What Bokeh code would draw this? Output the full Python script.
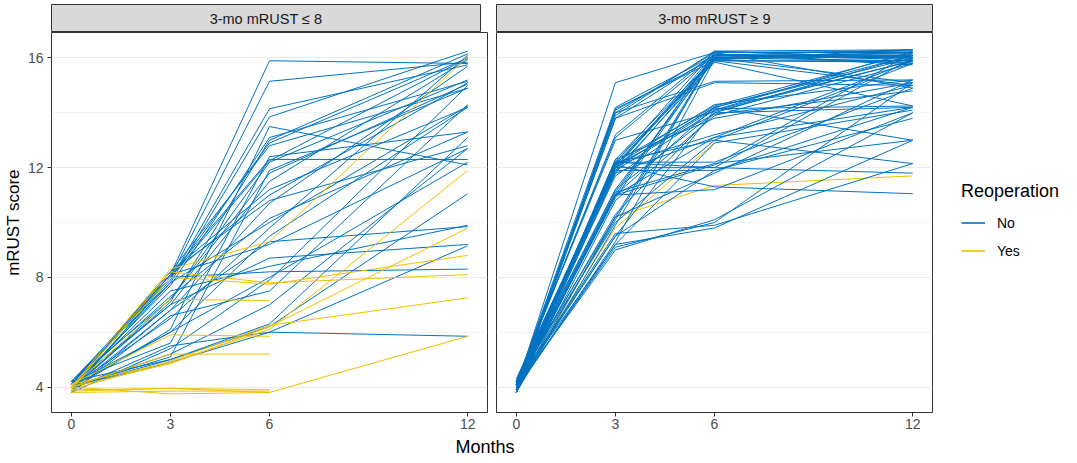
import math
from bokeh.plotting import figure
from bokeh.models import Range1d, FixedTicker, Legend, LegendItem
from bokeh.layouts import row, column
from bokeh.core.properties import value
from bokeh.embed import file_html
from bokeh.resources import INLINE

NAN = float("nan")

months = [0, 3, 6, 12]
x_ticks = [0, 3, 6, 12]
y_ticks = [4, 8, 12, 16]
y_minor = [6, 10, 14]
panel_titles = ["3-mo mRUST \u2264 8", "3-mo mRUST \u2265 9"]
legend_title = "Reoperation"
legend_labels = ["No", "Yes"]

# mRUST score at months 0, 3, 6, 12 for each patient (NaN = not observed)
left_no = [
    [4.1, 8.1, 15.9, 15.8], [4.0, 8.0, 15.15, 15.85], [3.9, 7.9, 14.15, 15.75],
    [4.2, 7.8, 13.85, 16.25], [4.0, 7.7, 13.1, 15.15], [3.9, 7.1, 13.0, 16.15],
    [4.1, 8.2, 12.8, 14.9], [4.0, 8.1, 12.3, 12.3], [3.8, 8.0, 12.25, 16.0],
    [4.2, 7.2, 11.8, 15.05], [4.0, 8.2, 11.2, 14.2], [3.9, 6.8, 10.7, 15.7],
    [4.1, 7.3, 10.15, 13.3], [4.0, 8.1, 9.2, 12.7], [3.8, 6.8, 9.3, 9.85],
    [4.1, 8.0, 8.2, 8.3], [4.0, 7.0, 8.7, 9.2], [3.9, 5.5, 6.0, 5.85],
    [4.2, 5.0, 6.3, 13.1], [4.0, 5.2, 7.0, 12.7], [3.8, 5.4, 7.9, 15.0],
    [4.1, 6.0, 9.5, 14.2], [4.0, 6.5, 9.8, 16.1], [3.9, 7.2, 12.2, 15.2],
    [4.0, 5.0, 6.2, 11.05], [4.0, 7.5, 8.4, 9.9], [4.0, 5.1, 11.9, 14.9],
    [4.2, 5.6, 12.4, 13.3], [3.9, 6.1, 13.5, 12.1], [4.1, 7.0, 11.5, 15.95],
    [4.0, 8.2, 10.8, 12.8], [3.8, 6.6, 7.5, 14.3], [4.0, 4.9, 6.0, 9.15],
    [4.1, 8.1, 11.0, 15.1], [3.9, 7.8, 10.0, 14.25], [4.2, 8.0, 12.9, 16.0],
    [4.0, 6.0, 8.0, 12.2],
]
left_yes = [
    [3.9, 8.2, 7.8, 8.1], [4.0, 8.3, 9.3, 16.05], [4.0, 8.0, 7.75, 8.8],
    [4.1, 4.9, 6.1, 11.9], [4.0, 4.85, 6.2, 9.8], [3.9, 4.95, 6.25, 7.25],
    [4.0, 7.2, 7.15, NAN], [4.1, 5.9, 5.85, NAN], [4.0, 5.2, 5.2, NAN],
    [3.9, 3.95, 3.8, 5.85], [3.8, 3.85, 3.85, NAN], [4.0, 3.75, 3.8, NAN],
    [3.85, 3.95, 3.9, NAN],
]
right_no = [
    [4.0, 15.1, 16.2, 16.2], [4.1, 14.2, 16.1, 16.0], [3.9, 14.1, 16.0, 15.9],
    [4.0, 13.9, 16.25, 16.3], [4.2, 13.1, 16.1, 16.1], [3.8, 12.3, 16.0, 16.2],
    [4.0, 12.0, 16.15, 15.8], [4.1, 11.2, 15.95, 16.1], [3.9, 11.0, 16.2, 16.25],
    [4.0, 10.1, 16.05, 16.0], [4.2, 12.1, 15.9, 15.9], [3.8, 9.9, 16.1, 16.3],
    [4.0, 11.8, 16.0, 15.1], [4.1, 13.2, 16.2, 14.9], [3.9, 12.2, 15.9, 15.0],
    [4.0, 10.9, 16.1, 16.05], [4.0, 14.0, 16.2, 16.2], [3.9, 13.8, 16.1, 16.15],
    [4.1, 12.1, 16.0, 16.1], [4.0, 11.1, 16.15, 15.75], [4.2, 10.2, 16.1, 15.95],
    [3.9, 9.3, 15.95, 16.3], [4.0, 12.2, 16.25, 16.0], [4.1, 11.9, 15.85, 14.25],
    [3.8, 14.15, 15.9, 15.85], [4.3, 12.0, 16.0, 16.2],
    [4.0, 13.8, 15.1, 15.0], [4.1, 14.0, 15.15, 15.2],
    [4.1, 12.2, 14.25, 16.2], [3.9, 12.0, 14.2, 16.0], [4.0, 11.7, 14.1, 15.9],
    [4.2, 11.2, 14.0, 16.1], [3.8, 10.8, 13.9, 15.8], [4.0, 12.1, 14.3, 15.2],
    [4.1, 10.3, 14.0, 14.2], [3.9, 12.3, 13.8, 15.1], [4.0, 11.9, 14.15, 14.25],
    [4.1, 9.5, 14.1, 16.25], [4.0, 12.0, 14.2, 13.0], [4.2, 13.0, 14.05, 15.9],
    [3.9, 12.1, 13.95, 14.8], [4.0, 11.0, 14.2, 16.1],
    [4.0, 12.1, 13.2, 15.0], [3.9, 11.0, 13.1, 14.2], [4.2, 10.0, 13.0, 15.8],
    [4.0, 12.2, 13.0, 12.15], [4.1, 9.2, 12.9, 14.1], [3.8, 11.8, 13.1, 15.9],
    [4.0, 12.2, 12.2, 14.9], [3.9, 12.0, 12.0, 16.0], [4.1, 11.9, 11.9, 13.8],
    [4.0, 11.0, 12.1, 16.2], [3.8, 10.2, 11.8, 15.2], [4.0, 9.5, 11.9, 14.2],
    [4.0, 12.2, 12.0, 11.8], [4.1, 11.1, 12.15, 13.0],
    [4.2, 12.1, 11.3, 11.05], [4.0, 11.0, 11.2, 14.0],
    [4.0, 9.0, 10.1, 14.0], [3.9, 9.2, 9.8, 13.0], [4.1, 9.6, 9.9, 12.15],
    [4.0, 9.1, 10.0, 15.1],
]
right_yes = [
    [3.9, 10.2, 11.35, 11.7], [4.0, 9.8, 12.9, NAN],
]

BLUE = "#0073C2"
YELLOW = "#EFC000"
FONT = "Liberation Sans"
SMALL = "14px"
STRIP = "14.5px"
BASE = "17px"
BIG = "18px"


def to_xy(series):
    xs, ys = [], []
    for s in series:
        xs.append([m for m, v in zip(months, s) if not math.isnan(v)])
        ys.append([v for v in s if not math.isnan(v)])
    return xs, ys


def make_strip(title, left_border):
    s = figure(width=left_border + 437, height=32, x_range=Range1d(0, 1), y_range=Range1d(0, 1),
               min_border_left=left_border, min_border_right=1, min_border_top=4, min_border_bottom=0,
               output_backend="svg", toolbar_location=None)
    s.axis.visible = False
    s.grid.visible = False
    s.background_fill_color = "#D9D9D9"
    s.outline_line_color = "#333333"
    s.outline_line_width = 1
    s.text(x=[0.5], y=[0.47], text=[title], text_align="center", text_baseline="middle",
           text_font=value(FONT), text_font_size=STRIP, text_color="#1A1A1A")
    return s


def make_panel(no, yes, show_y, yes_first):
    p = figure(frame_width=436, frame_height=380,
               x_range=Range1d(-0.6, 12.6), y_range=Range1d(3.07, 16.93),
               min_border_left=44 if show_y else 8, min_border_right=1, min_border_top=0,
               min_border_bottom=18, output_backend="svg", toolbar_location=None)
    xs_n, ys_n = to_xy(no)
    xs_y, ys_y = to_xy(yes)
    if yes_first:
        p.multi_line(xs_y, ys_y, line_color=YELLOW, line_width=1)
        p.multi_line(xs_n, ys_n, line_color=BLUE, line_width=1)
    else:
        p.multi_line(xs_n, ys_n, line_color=BLUE, line_width=1)
        p.multi_line(xs_y, ys_y, line_color=YELLOW, line_width=1)

    p.outline_line_color = "#333333"
    p.outline_line_width = 1
    p.xgrid.visible = False
    p.ygrid.ticker = FixedTicker(ticks=y_ticks, minor_ticks=y_minor)
    p.ygrid.grid_line_color = "#EBEBEB"
    p.ygrid.grid_line_width = 1.1
    p.ygrid.minor_grid_line_color = "#EBEBEB"
    p.ygrid.minor_grid_line_width = 0.6

    ax = p.xaxis[0]
    ax.ticker = FixedTicker(ticks=x_ticks)
    ax.axis_line_color = None
    ax.major_tick_line_color = "#333333"
    ax.major_tick_out = 4
    ax.major_tick_in = 0
    ax.minor_tick_line_color = None
    ax.major_label_text_font = FONT
    ax.major_label_text_font_size = SMALL
    ax.major_label_text_color = "#4D4D4D"
    ax.major_label_standoff = 2

    ay = p.yaxis[0]
    ay.ticker = FixedTicker(ticks=y_ticks, minor_ticks=y_minor)
    if show_y:
        ay.axis_line_color = None
        ay.major_tick_line_color = "#333333"
        ay.major_tick_out = 4
        ay.major_tick_in = 0
        ay.minor_tick_line_color = None
        ay.major_label_text_font = FONT
        ay.major_label_text_font_size = SMALL
        ay.major_label_text_color = "#4D4D4D"
        ay.major_label_standoff = 4
        ay.axis_label = "mRUST score"
        ay.axis_label_text_font = FONT
        ay.axis_label_text_font_size = BASE
        ay.axis_label_text_font_style = "normal"
        ay.axis_label_text_color = "black"
        ay.axis_label_standoff = 2
    else:
        ay.visible = False
    return p


strip1 = make_strip(panel_titles[0], 44)
strip2 = make_strip(panel_titles[1], 8)
p1 = make_panel(left_no, left_yes, True, False)
p2 = make_panel(right_no, right_yes, False, True)

# legend figure (sample renderers lie outside the visible range)
lf = figure(width=130, height=434, x_range=Range1d(0, 1), y_range=Range1d(0, 1),
            min_border=0, output_backend="svg", toolbar_location=None)
lf.axis.visible = False
lf.grid.visible = False
lf.outline_line_color = None
r_no = lf.line(x=[-5, -4], y=[-5, -5], line_color=BLUE, line_width=1.6)
r_yes = lf.line(x=[-5, -4], y=[-5, -5], line_color=YELLOW, line_width=1.6)
legend = Legend(items=[LegendItem(label=legend_labels[0], renderers=[r_no]),
                       LegendItem(label=legend_labels[1], renderers=[r_yes])],
                title=legend_title, location=(28, 171))
legend.title_text_font = FONT
legend.title_text_font_size = BIG
legend.title_text_font_style = "normal"
legend.title_text_color = "black"
legend.title_standoff = 8
legend.label_text_font = FONT
legend.label_text_font_size = SMALL
legend.label_text_color = "black"
legend.glyph_width = 24
legend.glyph_height = 25
legend.label_height = 25
legend.label_standoff = 12
legend.spacing = 3
legend.padding = 0
legend.margin = 0
legend.border_line_color = None
legend.background_fill_alpha = 0
lf.add_layout(legend)

# x-axis title spanning both panels
mf = figure(width=44 + 881, height=22, x_range=Range1d(0, 1), y_range=Range1d(0, 1),
            min_border_left=44, min_border_right=0, min_border_top=0, min_border_bottom=0,
            output_backend="svg", toolbar_location=None)
mf.axis.visible = False
mf.grid.visible = False
mf.outline_line_color = None
mf.text(x=[0.5], y=[0.45], text=["Months"], text_align="center", text_baseline="middle",
        text_font=value(FONT), text_font_size=BIG, text_color="black")

layout = column(row(column(strip1, p1), column(strip2, p2), lf), mf)

open("out.html", "w").write(file_html(layout, INLINE))
